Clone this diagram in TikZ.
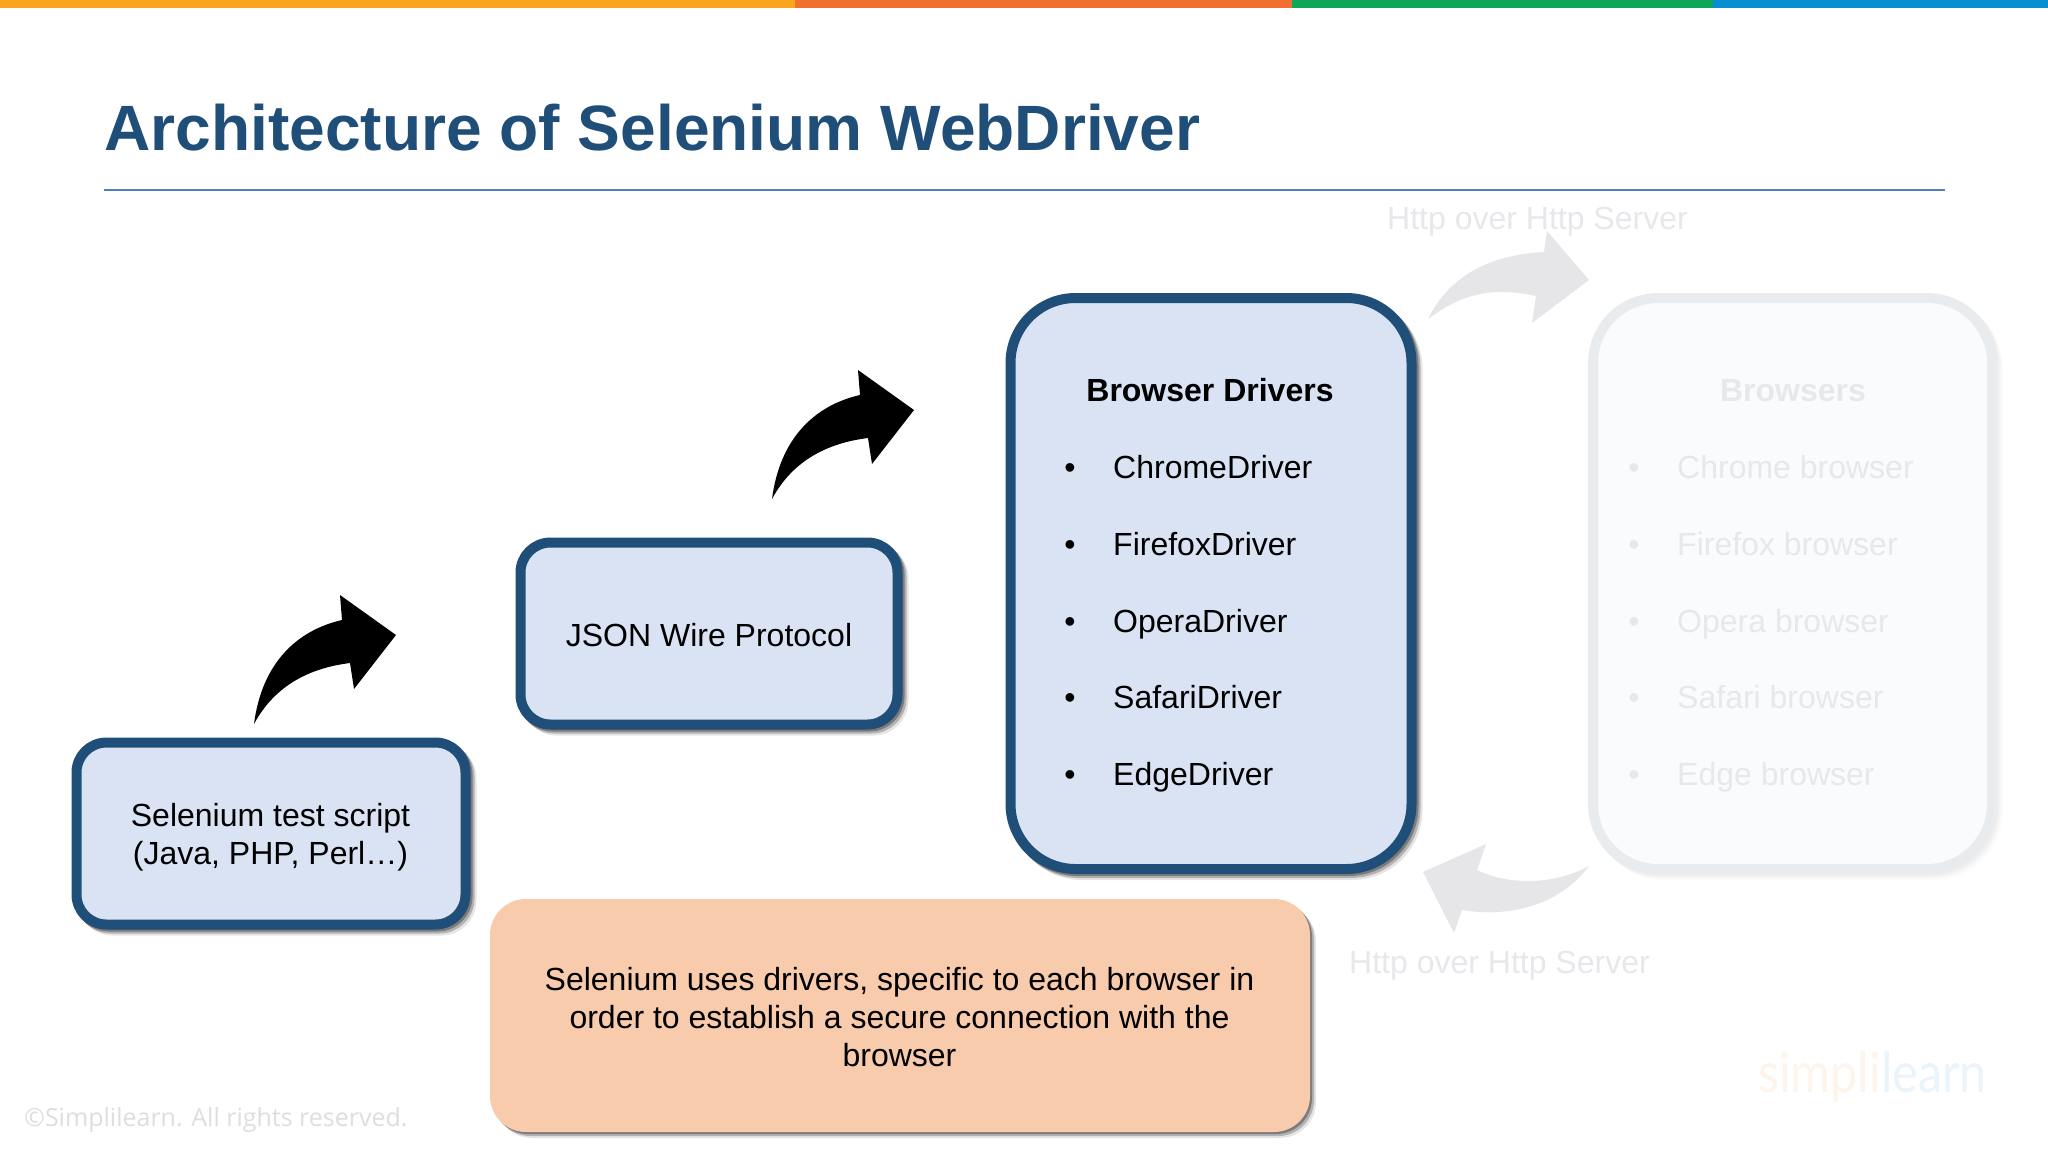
\documentclass[tikz,border=0pt]{standalone}
\usepackage{fontspec}
\setmainfont{Liberation Sans}
\newfontfamily\logofont{Lato}
\newfontfamily\copyfont{Open Sans}
\usetikzlibrary{shadows}
\definecolor{navy}{HTML}{1F4E79}
\definecolor{titleblue}{HTML}{1F4E79}
\definecolor{rulecol}{HTML}{4F7FC0}
\definecolor{boxfill}{HTML}{DAE3F3}
\definecolor{fadeline}{HTML}{E9ECEF}
\definecolor{fadefill}{HTML}{FAFBFD}
\definecolor{fadetext}{HTML}{E7E8EB}
\definecolor{fadearrow}{HTML}{E6E6E8}
\definecolor{notefill}{HTML}{F8CBAD}
\newcommand{\bodysize}{\fontsize{32}{38}\selectfont}
\newcommand{\stepshape}{(254,724) .. controls (262,662) and (298,630) .. (342,620) -- (340,595) -- (396,635) -- (354,689) -- (350,663) .. controls (310,668) and (275,685) .. (254,724) -- cycle}
\tikzset{
  softline/.style={
    drop shadow={shadow xshift=2pt,shadow yshift=-2pt,opacity=.30,draw=#1,fill=none},
    drop shadow={shadow xshift=4pt,shadow yshift=-4pt,opacity=.22,draw=#1,fill=none},
    drop shadow={shadow xshift=6pt,shadow yshift=-6pt,opacity=.10,draw=#1,fill=none}},
  softfill/.style={
    drop shadow={shadow xshift=2pt,shadow yshift=-2pt,opacity=.30,fill=black},
    drop shadow={shadow xshift=4pt,shadow yshift=-4pt,opacity=.22,fill=black},
    drop shadow={shadow xshift=6pt,shadow yshift=-6pt,opacity=.10,fill=black}},
  blockbase/.style={rectangle,line width=10pt,inner sep=0pt},
  smallblock/.style={blockbase,softline=black,draw=navy,fill=boxfill,rounded corners=30pt},
  bigblock/.style={blockbase,softline=black,draw=navy,fill=boxfill,rounded corners=65pt},
  fadeblock/.style={blockbase,softline=black!12,draw=fadeline,fill=fadefill,rounded corners=65pt},
  notebox/.style={rectangle,softfill,fill=notefill,rounded corners=36pt,inner sep=0pt},
  boxtext/.style={inner sep=0pt,align=center,font=\bodysize,text=black},
  itemtext/.style={anchor=base west,inner sep=0pt,font=\bodysize,text=black},
  fadeitem/.style={itemtext,text=fadetext},
  headtext/.style={anchor=base,inner sep=0pt,font=\bodysize\bfseries,text=black},
  fadelabel/.style={anchor=base west,inner sep=0pt,font=\bodysize,text=fadetext},
}
\begin{document}
\begin{tikzpicture}[x=1pt,y=-1pt]
\useasboundingbox (0,0) rectangle (2048,1152);
% top colour bar
\fill[fill=white] (0,0) rectangle (2048,1152);
\fill[fill={rgb,255:red,249;green,166;blue,30}] (0,0) rectangle (795,8);
\fill[fill={rgb,255:red,241;green,112;blue,48}] (795,0) rectangle (1292,8);
\fill[fill={rgb,255:red,14;green,166;blue,88}] (1292,0) rectangle (1713,8);
\fill[fill={rgb,255:red,10;green,142;blue,210}] (1713,0) rectangle (2048,8);
% title
\node[anchor=base west,inner sep=0pt,font=\fontsize{64.1}{70}\selectfont\bfseries,text=titleblue] (title) at (104,150) {Architecture of Selenium WebDriver};
\coordinate (ruleL) at (104,190);
\coordinate (ruleR) at (1945,190);
\draw[rulecol,line width=1.6pt] (ruleL) -- (ruleR);
% faded browsers block
\node[fadeblock,minimum width=399pt,minimum height=571pt] (browsers) at (1792.5,583.5) {};
\node[headtext,text=fadetext] (browsersHead) at (1793,401.5) {Browsers};
\foreach \n/\yy/\t in {a/478/Chrome browser,b/555/Firefox browser,c/632/Opera browser,d/708.5/Safari browser,e/785/Edge browser}{
  \node[fadeitem,anchor=base] (bb\n) at (1634,\yy) {•};
  \node[fadeitem] (bt\n) at (1677,\yy) {\t};
}
% faded arrows and labels
\fill[fadearrow] (1428,319) .. controls (1450,275) and (1490,255) .. (1544,252) -- (1547,231) -- (1589,280) -- (1532,323) -- (1536,296) .. controls (1490,286) and (1460,295) .. (1428,319) -- cycle;
\fill[fadearrow] (1589,866) .. controls (1560,882) and (1515,888) .. (1477,870) -- (1486,844) -- (1423,872) -- (1454,933) -- (1462,910) .. controls (1510,918) and (1560,905) .. (1589,866) -- cycle;
\node[fadelabel] (httpTop) at (1387,229.5) {Http over Http Server};
\node[fadelabel] (httpBot) at (1349,973) {Http over Http Server};
% main blocks
\node[smallblock,minimum width=389pt,minimum height=182pt] (script) at (271,833.5) {};
\node[boxtext] (scriptText) at (270.5,837.5) {Selenium test script\\(Java, PHP, Perl…)};
\node[smallblock,minimum width=377pt,minimum height=182pt] (json) at (709,633.5) {};
\node[boxtext] (jsonText) at (709,635.5) {JSON Wire Protocol};
\node[bigblock,minimum width=401pt,minimum height=571pt] (drivers) at (1211,583.5) {};
\node[headtext] (driversHead) at (1210,401.5) {Browser Drivers};
\foreach \n/\yy/\t in {a/478/ChromeDriver,b/555/FirefoxDriver,c/632/OperaDriver,d/708.5/SafariDriver,e/785/EdgeDriver}{
  \node[itemtext,anchor=base] (db\n) at (1070,\yy) {•};
  \node[itemtext] (dt\n) at (1113,\yy) {\t};
}
% black arrows
\fill[black] \stepshape;
\fill[black,shift={(518,-225)}] \stepshape;
% note
\node[notebox,minimum width=820pt,minimum height=233pt] (note) at (900,1015.5) {};
\node[boxtext] (noteText) at (899.5,1017) {Selenium uses drivers, specific to each browser in\\order to establish a secure connection with the\\browser};
% watermarks
\node[anchor=base west,inner sep=0pt,font=\copyfont\fontsize{25}{28}\selectfont,text=black!13] (copy) at (24,1126) {©Simplilearn. All rights reserved.};
\node[anchor=base west,inner sep=0pt,font=\logofont\fontsize{56}{60}\selectfont] (logo) at (1758,1092) {\scalebox{.866}[1]{\textcolor[HTML]{FDF5EC}{simpli}\textcolor[HTML]{EAF5FB}{learn}}};
\end{tikzpicture}
\end{document}
